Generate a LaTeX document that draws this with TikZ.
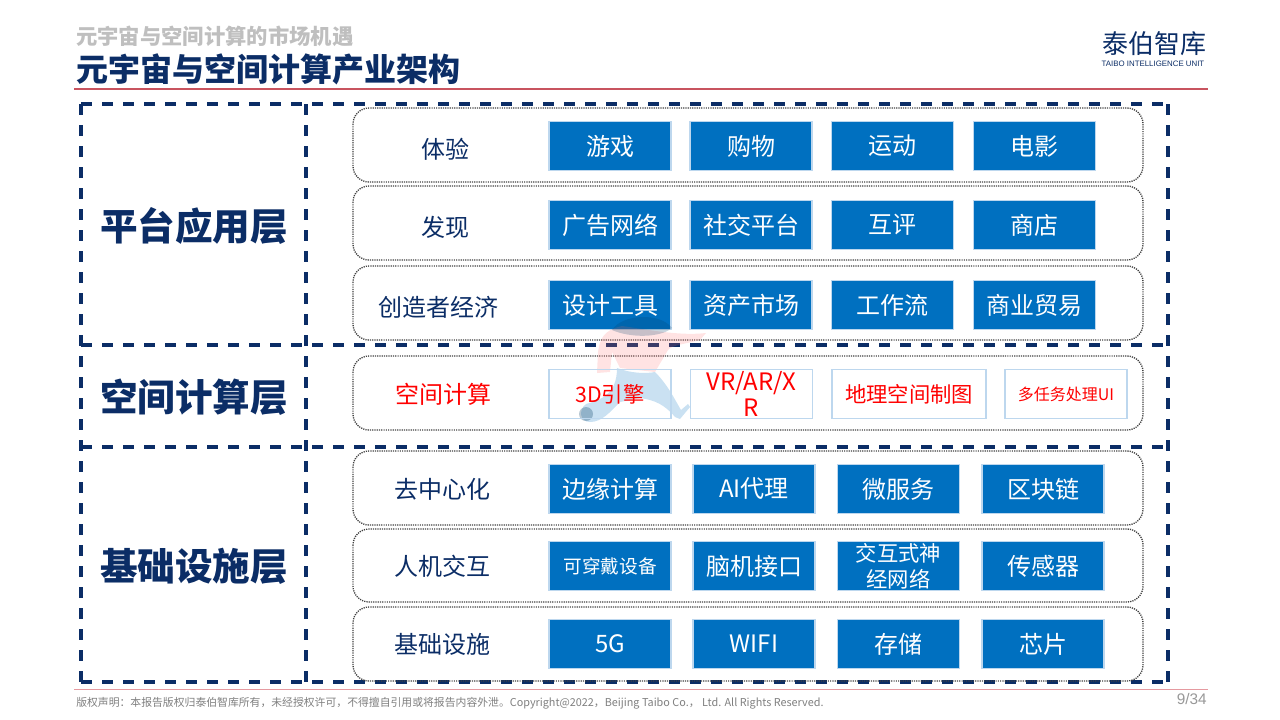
\documentclass[tikz,border=0pt]{standalone}
\usepackage{fontspec}
\setmainfont{Noto Sans CJK SC}
\newfontfamily\latinfont{Liberation Sans}
\definecolor{navy}{HTML}{0B2D66}
\definecolor{boxblue}{HTML}{0070C0}
\definecolor{boxedge}{HTML}{BDD7EE}
\definecolor{rulered}{HTML}{C8545F}
\definecolor{rulepink}{HTML}{E59AA0}
\definecolor{subgray}{HTML}{BFBFBF}
\definecolor{footgray}{HTML}{7F7F7F}
\newcommand{\bodysize}{\fontsize{18}{19.5}\selectfont}
\tikzset{
  x=0.75pt,y=-0.75pt,
  layerline/.style={draw=navy,line width=2.3pt,dash pattern=on 8.6pt off 7.15pt},
  rowbox/.style={draw=black!75,line width=1pt,dash pattern=on 0.9pt off 0.8pt,rounded corners=12pt},
  cell/.style={draw=boxedge,line width=1pt,fill=boxblue,text=white,minimum height=36.75pt,minimum width=91.5pt,inner sep=0pt,align=center,font=\bodysize},
  redcell/.style={cell,fill=none,text=red},
  rowlabel/.style={text=navy,inner sep=0pt,font=\bodysize},
  layerlabel/.style={text=navy,inner sep=0pt,font=\fontsize{28.2}{30}\selectfont\bfseries},
}
\begin{document}
\begin{tikzpicture}
\useasboundingbox (0,0) rectangle (1280,719);
% header
\node[anchor=west,inner sep=0pt,text=subgray,font=\fontsize{16}{18}\selectfont\bfseries] (subtitle) at (76,36) {元宇宙与空间计算的市场机遇};
\node[anchor=west,inner sep=0pt,text=navy,font=\fontsize{24}{26}\selectfont\bfseries] (title) at (76,69) {元宇宙与空间计算产业架构};
\node[anchor=center,inner sep=0pt,text=navy,font=\fontsize{19.5}{21}\selectfont] (logo) at (1154,44) {泰伯智库};
\node[anchor=center,inner sep=0pt,text=navy,font=\latinfont\fontsize{5.9}{6}\selectfont] (logosub) at (1153,64) {TAIBO INTELLIGENCE UNIT};
\fill[rulered] (74,88) rectangle (1208,90);
% layer frame
\draw[layerline] (81,104) -- (1168,104);
\draw[layerline] (81,682) -- (1168,682);
\draw[layerline] (81,104) -- (81,682);
\draw[layerline] (1168,104) -- (1168,682);
\draw[layerline] (306,104) -- (306,682);
\draw[layerline] (81,345) -- (1168,345);
\draw[layerline] (81,447) -- (1168,447);
% row frames
\draw[rowbox] (353,108) rectangle (1143,182);
\draw[rowbox] (353,186) rectangle (1143,260);
\draw[rowbox] (353,266) rectangle (1143,340);
\draw[rowbox] (353,356) rectangle (1143,430);
\draw[rowbox] (353,451) rectangle (1143,525);
\draw[rowbox] (353,529) rectangle (1143,602);
\draw[rowbox] (353,607) rectangle (1143,681);
% layer labels
\node[layerlabel] (l1) at (194,226) {平台应用层};
\node[layerlabel] (l2) at (194,397) {空间计算层};
\node[layerlabel] (l3) at (194,566) {基础设施层};
% row labels
\node[rowlabel] (r1) at (445,149) {体验};
\node[rowlabel] (r2) at (445,227) {发现};
\node[rowlabel] (r3) at (438,307) {创造者经济};
\node[rowlabel,text=red] (r4) at (443,394) {空间计算};
\node[rowlabel] (r5) at (442.5,489) {去中心化};
\node[rowlabel] (r6) at (442.5,566) {人机交互};
\node[rowlabel] (r7) at (442.5,644) {基础设施};
% row 1
\node[cell] (a1) at (610,146) {游戏};
\node[cell] (a2) at (751,146) {购物};
\node[cell] (a3) at (892.5,146) {运动};
\node[cell] (a4) at (1034.5,146) {电影};
% row 2
\node[cell] (b1) at (610,225) {广告网络};
\node[cell] (b2) at (751,225) {社交平台};
\node[cell] (b3) at (892.5,225) {互评};
\node[cell] (b4) at (1034.5,225) {商店};
% row 3
\node[cell] (c1) at (610,305) {设计工具};
\node[cell] (c2) at (751,305) {资产市场};
\node[cell] (c3) at (892.5,305) {工作流};
\node[cell] (c4) at (1034.5,305) {商业贸易};
% watermark figure
\begin{scope}[opacity=0.2]
\fill[red!55] (598,352) .. controls (600,338) and (604,330) .. (622,326) .. controls (650,330) and (680,336) .. (706,333) -- (700,340) .. controls (685,344) and (672,345) .. (668,350) -- (655,372) -- (620,368) -- (612,352) -- (610,372) -- (597,373) -- cycle;
\end{scope}
\begin{scope}[opacity=0.22]
\fill[black!45!boxblue] (612,330) .. controls (622,314) and (660,312) .. (672,328) .. controls (660,338) and (630,338) .. (612,330) -- cycle;
\end{scope}
\begin{scope}[opacity=0.28]
\fill[boxblue!75] (617,368) .. controls (630,373) and (645,374) .. (655,372) .. controls (668,385) and (675,400) .. (681,410) -- (688,404) -- (690,407) -- (680,419) -- (675,417) .. controls (665,405) and (655,400) .. (640,398) -- (620,402) .. controls (610,412) and (602,422) .. (590,422) .. controls (580,422) and (578,410) .. (586,404) .. controls (600,400) and (617,395) .. (617,368) -- cycle;
\fill[black!50!boxblue] (586,414) circle (7);
\end{scope}
% row 4
\node[redcell] (d1) at (610,394) {\fontsize{16}{18}\selectfont 3D引擎};
\node[redcell] (d2) at (751.5,394) {VR/AR/X\\R};
\node[redcell,minimum width=115.5pt,font=\fontsize{16}{18}\selectfont] (d3) at (909,394) {地理空间制图};
\node[redcell,font=\fontsize{12}{14}\selectfont] (d4) at (1066,394) {多任务处理UI};
% row 5
\node[cell] (e1) at (610,489) {边缘计算};
\node[cell] (e2) at (754,489) {AI代理};
\node[cell] (e3) at (898.5,489) {微服务};
\node[cell] (e4) at (1043,489) {区块链};
% row 6
\node[cell,font=\fontsize{14}{16}\selectfont] (f1) at (610,566) {可穿戴设备};
\node[cell] (f2) at (754,566) {脑机接口};
\node[cell,font=\fontsize{16}{19.5}\selectfont] (f3) at (898.5,566) {交互式神\\经网络};
\node[cell] (f4) at (1043,566) {传感器};
% row 7
\node[cell] (g1) at (610,644) {5G};
\node[cell] (g2) at (754,644) {WIFI};
\node[cell] (g3) at (898.5,644) {存储};
\node[cell] (g4) at (1043,644) {芯片};
% footer
\fill[rulepink] (74,688.5) rectangle (1208,689.8);
\node[anchor=west,inner sep=0pt,text=footgray,font=\fontsize{8.13}{9}\selectfont] (foot) at (76,703) {版权声明：本报告版权归泰伯智库所有，未经授权许可，不得擅自引用或将报告内容外泄。Copyright@2022，Beijing Taibo Co.， Ltd. All Rights Reserved.};
\node[anchor=east,inner sep=0pt,text=footgray!80,font=\latinfont\fontsize{11.5}{12}\selectfont] (page) at (1207,699) {9/34};
\end{tikzpicture}
\end{document}
